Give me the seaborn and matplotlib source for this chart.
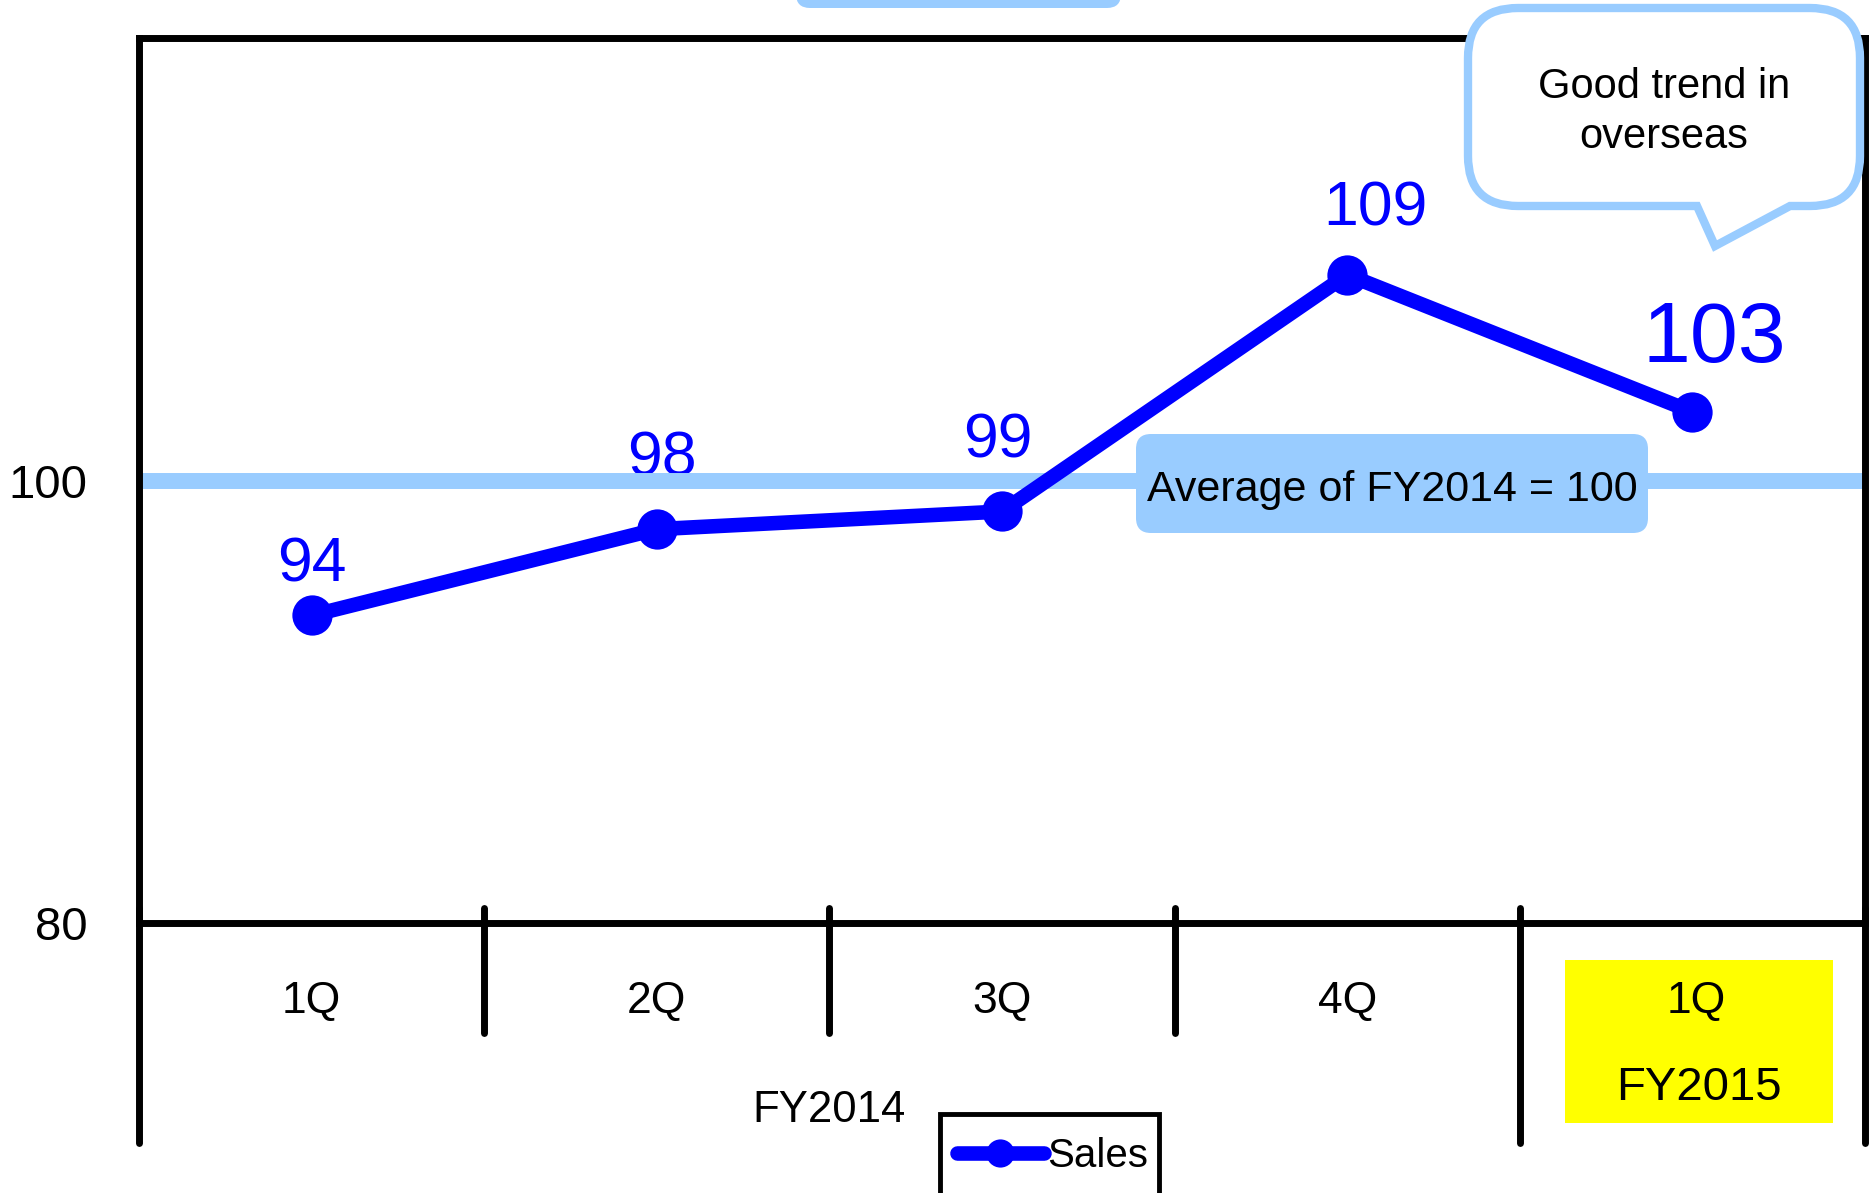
import numpy as np
import pandas as pd
import matplotlib
matplotlib.use("Agg")
import matplotlib.pyplot as plt
import seaborn as sns
from matplotlib.patches import FancyBboxPatch, PathPatch, Rectangle
from matplotlib.path import Path
from matplotlib.transforms import Affine2D, ScaledTranslation, blended_transform_factory

# data
quarters = ["1Q", "2Q", "3Q", "4Q", "1Q"]
fiscal_years = ["FY2014", "FY2014", "FY2014", "FY2014", "FY2015"]
sales_index = [93.9, 97.8, 98.6, 109.3, 103.1]
average_fy2014 = 100
y_ticks = [80, 100]

# label nudges in pixels (layout only)
label_offsets = [(0, 34), (5, 54), (-4, 54), (28, 49), (22, 50)]

BLUE = "#0000FF"
LIGHT = "#99CCFF"
W, H = 1869, 1193

sns.set_style("white")
plt.rcParams["font.family"] = ["Liberation Sans", "DejaVu Sans"]
plt.rcParams["text.color"] = "black"

fig = plt.figure(figsize=(W / 100, H / 100), dpi=100)
ax = fig.add_axes([139 / W, 1 - 923 / H, (1865 - 139) / W, (923 - 38) / H])

# image-pixel coordinates (y down) for annotations outside the plot
px = Affine2D().scale(1 / W, -1 / H).translate(0, 1) + fig.transFigure
xdata_ypx = blended_transform_factory(ax.transData, px)

df = pd.DataFrame({"pos": np.arange(len(quarters)), "sales": sales_index})
sns.lineplot(data=df, x="pos", y="sales", ax=ax, color=BLUE, linewidth=10.5,
             marker="o", markersize=29, markeredgewidth=0, label="Sales", zorder=3)

ax.axhline(average_fy2014, color=LIGHT, linewidth=11.5, zorder=2)

# data labels
for i, v in enumerate(sales_index):
    dx, dy = label_offsets[i]
    size = 62 if i == len(sales_index) - 1 else 45
    ax.annotate(f"{round(v)}", xy=(i, v), xytext=(dx, dy), textcoords="offset pixels",
                ha="center", va="baseline", color=BLUE, fontsize=size, zorder=1.5)

ax.set_xlim(-0.5, len(quarters) - 0.5)
ax.set_ylim(80, 120)
ax.set_yticks(y_ticks)
ax.set_xticks(df["pos"], quarters)
ax.tick_params(axis="y", length=0, pad=37, labelsize=34, colors="black")
ax.tick_params(axis="x", length=0, pad=42, labelsize=32, colors="black")
last = ax.get_xticklabels()[-1]
last.set_transform(last.get_transform() + ScaledTranslation(0.04, 0, fig.dpi_scale_trans))
ax.set_xlabel("")
ax.set_ylabel("")
for s in ax.spines.values():
    s.set_visible(True)
    s.set_color("black")
    s.set_linewidth(5)

# category separators below the axis
for xb in [0.5, 1.5, 2.5]:
    ax.plot([xb, xb], [908, 1033], transform=xdata_ypx, color="black", lw=5,
            solid_capstyle="round", clip_on=False)
for xb in [-0.5, 3.5, 4.5]:
    ax.plot([xb, xb], [908, 1143], transform=xdata_ypx, color="black", lw=5,
            solid_capstyle="round", clip_on=False)

# fiscal year labels
fy14 = [i for i, f in enumerate(fiscal_years) if f == "FY2014"]
ax.text(np.mean(fy14), 1110, "FY2014", transform=xdata_ypx, ha="center", va="center",
        fontsize=31.5)
ax.add_patch(Rectangle((1565, 960), 268, 163, transform=px, facecolor="#FFFF00",
                       edgecolor="none", clip_on=False, zorder=0.5))
ax.text(1699, 1088, "FY2015", transform=px, ha="center", va="center", fontsize=34,
        zorder=3)

# average label box
ax.add_patch(FancyBboxPatch((1136, 434), 512, 99, boxstyle="round,pad=0,rounding_size=15",
                            transform=px, facecolor=LIGHT, edgecolor="none",
                            clip_on=False, zorder=2.6))
ax.text(1392, 490, f"Average of FY2014 = {average_fy2014}", transform=px, ha="center",
        va="center", fontsize=31, zorder=2.7)

# cut-off shape at the top
ax.add_patch(FancyBboxPatch((796, -60), 325, 68, boxstyle="round,pad=0,rounding_size=14",
                            transform=px, facecolor=LIGHT, edgecolor="none",
                            clip_on=False, zorder=6))

# speech bubble
L, R, T, B, r = 1468, 1860, 8, 206, 50
verts = [(L + r, T), (R - r, T), (R, T), (R, T + r), (R, B - r), (R, B), (R - r, B),
         (1790, B), (1715, 246), (1697, B), (L + r, B), (L, B), (L, B - r),
         (L, T + r), (L, T), (L + r, T), (L + r, T)]
codes = [Path.MOVETO, Path.LINETO, Path.CURVE3, Path.CURVE3, Path.LINETO, Path.CURVE3,
         Path.CURVE3, Path.LINETO, Path.LINETO, Path.LINETO, Path.LINETO, Path.CURVE3,
         Path.CURVE3, Path.LINETO, Path.CURVE3, Path.CURVE3, Path.CLOSEPOLY]
ax.add_patch(PathPatch(Path(verts, codes), transform=px, facecolor="white",
                       edgecolor=LIGHT, lw=6, clip_on=False, zorder=6))
ax.text(1664, 112, "Good trend in\noverseas", transform=px, ha="center", va="center",
        fontsize=30, linespacing=1.35, zorder=7)

# legend: entries from seaborn, frame cut off at the bottom edge like the original
leg = ax.legend(loc="center left", bbox_to_anchor=(957 / W, 1 - 1156 / H),
                bbox_transform=fig.transFigure, frameon=False, fontsize=29,
                handlelength=2.15, handletextpad=0.08, borderpad=0, borderaxespad=0,
                markerscale=0.7)
ax.add_patch(Rectangle((940, 1114), 219, 100, transform=px, facecolor="white",
                       edgecolor="black", lw=3.5, clip_on=False, zorder=4))
leg.set_zorder(5)

fig.savefig("out.png", dpi=100)
